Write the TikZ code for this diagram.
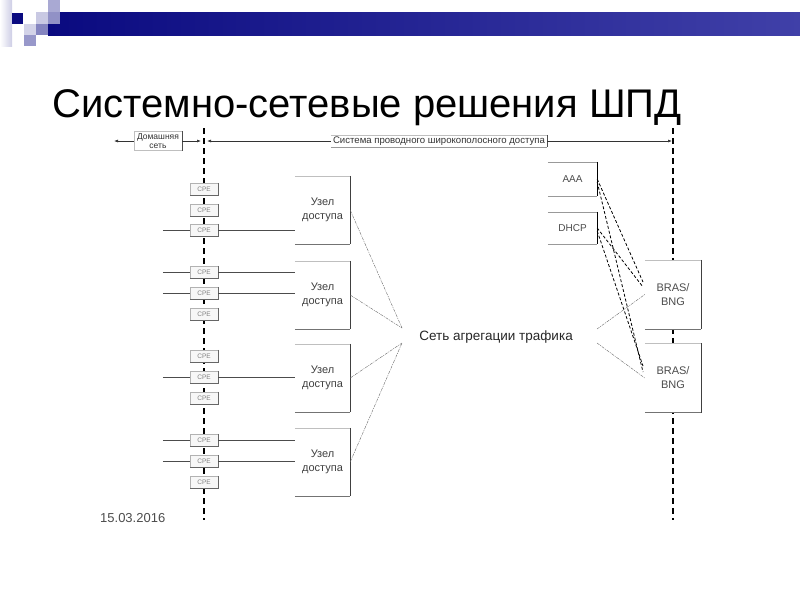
\documentclass[tikz,border=0pt]{standalone}
\usepackage{fontspec}
\setmainfont{Liberation Sans}
\usetikzlibrary{arrows.meta}
\definecolor{navyA}{HTML}{0A0A80}
\definecolor{navyB}{HTML}{4040A8}
\tikzset{
  vdash/.style={line width=2pt, dash pattern=on 6pt off 4pt},
  accbox/.style={minimum width=55pt, minimum height=68pt, inner sep=0pt, fill=white, align=center, text=black!75, font=\fontsize{11}{14}\selectfont},
  srvbox/.style={minimum width=49pt, inner sep=0pt, fill=white, text=black!70, font=\fontsize{10}{12}\selectfont},
  brasbox/.style={minimum width=56pt, minimum height=69pt, inner sep=0pt, fill=white, align=center, text=black!70, font=\fontsize{11}{14}\selectfont},
  cpebox/.style={minimum width=28pt, minimum height=12pt, inner sep=0pt, fill=black!3, draw=black!30, line width=0.5pt, text=black!50, font=\fontsize{6.5}{7}\selectfont},
  hdrbox/.style={inner sep=1pt, fill=white, text=black!80, font=\fontsize{8.5}{9.5}\selectfont, align=center},
  subline/.style={draw=black!70, line width=0.7pt},
  aggline/.style={draw=black!60, line width=0.4pt, dash pattern=on 3pt off 1pt on 1pt off 1pt},
  srvline/.style={draw=black, line width=0.8pt, dash pattern=on 3pt off 2pt},
  hline/.style={draw=black!80, line width=0.6pt},
  tip/.style={-{Latex[length=4pt,width=3pt]}}
}
\newcommand\boxedge[1]{%
  \draw[line width=0.6pt,draw=black!25] (#1.north west) -- (#1.north east);
  \draw[line width=1pt,draw=black!75] (#1.north east) -- (#1.south east);
  \draw[line width=0.8pt,draw=black!55] (#1.south west) -- (#1.south east);}
\newcommand\cpeedge[1]{%
  \draw[line width=0.8pt,draw=black!60] (#1.north east) -- (#1.south east) -- (#1.south west);}
\begin{document}
\begin{tikzpicture}[x=1pt,y=-1pt]
\useasboundingbox (0,0) rectangle (800,600);
% header decoration
\shade[left color=white, right color=navyA!20] (0,0) rectangle (12,46);
\shade[left color=navyA, right color=navyB] (48,12) rectangle (800,35);
\fill[navyA] (12,13) rectangle (23,24);
\fill[navyA!22] (36,12) rectangle (48,24);
\fill[navyA!35] (48,0) rectangle (60,12);
\fill[navyA!45] (48,12) rectangle (60,24);
\fill[navyA!18] (24,24) rectangle (36,35);
\fill[navyA!50] (36,24) rectangle (48,35);
\fill[navyA!42] (24,35) rectangle (36,46);
% title
\node[anchor=base west, inner sep=0pt, font=\fontsize{40}{48}\selectfont] (title) at (52,117) {Системно-сетевые решения ШПД};
% vertical dashed borders
\coordinate (lt) at (204,128); \coordinate (lb) at (204,520);
\coordinate (rt) at (673,128); \coordinate (rb) at (673,520);
\draw[vdash] (lt) -- (lb);
\draw[vdash] (rt) -- (rb);
% header row
\node[hdrbox, minimum width=48pt, minimum height=19pt] (home) at (158,141) {Домашняя\\сеть};
\draw[line width=0.5pt, draw=black!25] (home.north west) rectangle (home.south east);
\draw[line width=0.9pt, draw=black!70] (home.north east) -- (home.south east);
\node[hdrbox, minimum width=216pt, minimum height=12pt, font=\fontsize{9.6}{10.5}\selectfont] (sys) at (439,141) {Система проводного широкополосного доступа};
\draw[line width=0.5pt, draw=black!25] (sys.north west) -- (sys.north east);
\draw[line width=0.9pt, draw=black!70] (sys.north east) -- (sys.south east);
\draw[line width=0.5pt, draw=black!40] (sys.south west) -- (sys.south east);
\coordinate (homeL) at (114,141);
\coordinate (homeR) at (201,141);
\coordinate (sysL) at (207,141);
\coordinate (sysR) at (672,141);
\draw[hline, tip] (home.west) -- (homeL);
\draw[hline, tip] (home.east) -- (homeR);
\draw[hline, tip] (sys.west) -- (sysL);
\draw[hline, tip] (sys.east) -- (sysR);
% access nodes
\node[accbox] (u1) at (322.5,210) {Узел\\доступа};
\node[accbox] (u2) at (322.5,295) {Узел\\доступа};
\node[accbox] (u3) at (322.5,378) {Узел\\доступа};
\node[accbox] (u4) at (322.5,462) {Узел\\доступа};
\foreach \n in {u1,u2,u3,u4} {\boxedge{\n}}
% CPE
\foreach \n/\y in {c11/189,c12/210,c13/230,c21/272,c22/293,c23/314,c31/356,c32/377,c33/398,c41/440,c42/461,c43/482} {
  \node[cpebox] (\n) at (204,\y) {CPE};
  \cpeedge{\n}
}
% subscriber lines
\foreach \c/\u in {c13/u1,c21/u2,c22/u2,c32/u3,c41/u4,c42/u4} {
  \coordinate (\c-end) at ([xshift=-27pt]\c.west);
  \draw[subline] (\c-end) -- (\c.west);
  \draw[subline] (\c.east) -- (\u.west |- \c.east);
}
% aggregation network
\node[inner sep=0pt, font=\fontsize{13.5}{16}\selectfont, text=black!85] (agg) at (496,337) {Сеть агрегации трафика};
\coordinate (aL1) at (402,328);
\coordinate (aL2) at (402,343);
\coordinate (aR1) at (597,329);
\coordinate (aR2) at (597,343);
\draw[aggline] (u1.east) -- (aL1);
\draw[aggline] (u2.east) -- (aL1);
\draw[aggline] (u3.east) -- (aL2);
\draw[aggline] (u4.east) -- (aL2);
% servers
\node[srvbox, minimum height=34pt] (aaa) at (572.5,179) {AAA};
\node[srvbox, minimum height=32pt] (dhcp) at (572.5,228) {DHCP};
\foreach \n in {aaa,dhcp} {
  \draw[line width=0.6pt,draw=black!40] (\n.north west) -- (\n.north east);
  \draw[line width=0.6pt,draw=black!40] (\n.south west) -- (\n.south east);
  \draw[line width=1.4pt,draw=black] (\n.north east) -- (\n.south east);
}
% BRAS
\node[brasbox] (b1) at (673,294.5) {BRAS/\\BNG};
\node[brasbox] (b2) at (673,378) {BRAS/\\BNG};
\foreach \n in {b1,b2} {\boxedge{\n}}
\draw[aggline] (aR1) -- (b1.west);
\draw[aggline] (aR2) -- (b2.west);
% server links
\coordinate (b1a) at (643,282);
\coordinate (b1b) at (643,287);
\coordinate (b2a) at (643,366);
\coordinate (b2b) at (643,372);
\draw[srvline] (aaa.east) -- (b1a);
\draw[srvline] ([yshift=-3pt]aaa.east) -- (b2b);
\draw[srvline] (dhcp.east) -- (b1b);
\draw[srvline] ([yshift=-3pt]dhcp.east) -- (b2a);
% date
\node[anchor=base west, inner sep=0pt, font=\fontsize{13}{15}\selectfont, text=black!70] (date) at (100,522) {15.03.2016};
\end{tikzpicture}
\end{document}
